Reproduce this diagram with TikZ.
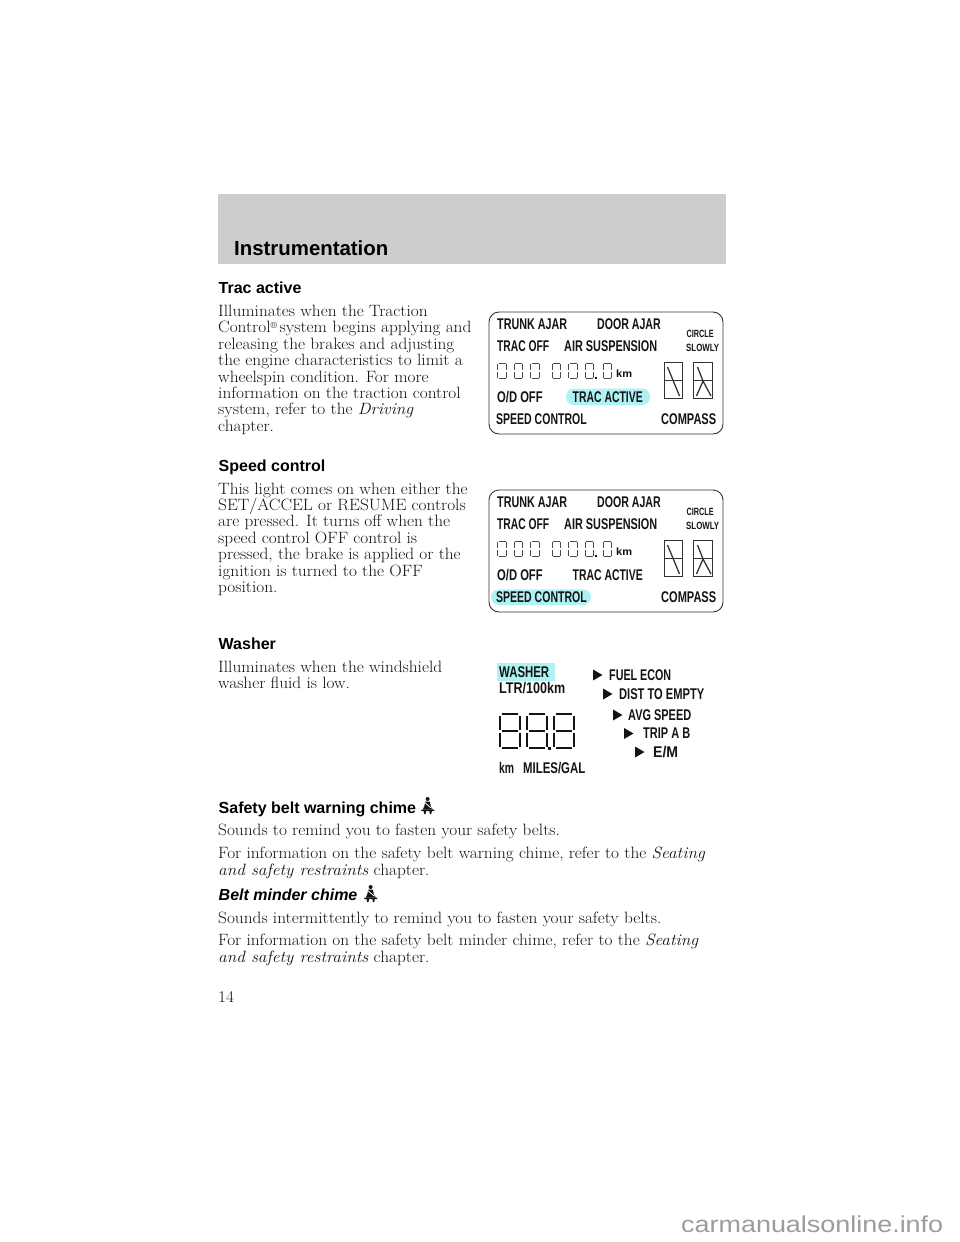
\documentclass[tikz,border=0pt]{standalone}
\usepackage{graphicx}
\usepackage{fontspec}
\setmainfont{Latin Modern Roman}
\newfontfamily\hsans{Liberation Sans}
\newfontfamily\lcdfont{Liberation Sans}
\definecolor{band}{HTML}{CDCDCD}
\definecolor{hili}{HTML}{AEF2F4}
\definecolor{ink}{HTML}{141414}
\definecolor{lcdline}{HTML}{333333}
\definecolor{segsoft}{HTML}{4A4A4A}
\definecolor{wm}{HTML}{9C9C9C}
\newcommand{\bodyfont}{\fontsize{16.4}{18}\selectfont}
\tikzset{
  x=1pt,y=-1pt,
  bodyline/.style={anchor=base west,inner sep=0pt,text=ink,font=\bodyfont},
  headline/.style={anchor=base west,inner sep=0pt,text=black,font=\hsans\bfseries\fontsize{16}{18}\selectfont},
  lcdtext/.style={anchor=west,inner sep=0pt,text=ink,font=\lcdfont\bfseries\fontsize{15.5}{16}\selectfont},
  lcdsmall/.style={anchor=west,inner sep=0pt,text=ink,font=\lcdfont\bfseries\fontsize{10.5}{11}\selectfont},
  panelbox/.style={draw=lcdline,line width=0.9pt,rounded corners=10pt},
  seg/.style={draw=segsoft,line width=1pt,line cap=butt},
  bigseg/.style={draw=ink,line width=1.8pt},
  alphaseg/.style={draw=lcdline,line width=1.3pt},
  marker/.style={fill=ink,draw=none},
}
\newcommand{\lcd}[5][lcdtext]{\node[#1] at (#2,#3) {\resizebox{#4pt}{\height}{#5}};}
\newcommand{\digit}[2]{% x y : small seven-segment outline, 9.4 x 16
  \begin{scope}[shift={(#1,#2)}]
    \draw[seg] (1.2,0.4) -- (8.2,0.4);
    \draw[seg] (1.2,15.6) -- (8.2,15.6);
    \draw[seg] (0.5,1.2) -- (0.5,7.4);
    \draw[seg] (8.9,1.2) -- (8.9,7.4);
    \draw[seg] (0.5,8.6) -- (0.5,14.8);
    \draw[seg] (8.9,8.6) -- (8.9,14.8);
  \end{scope}
}
\newcommand{\bigdigit}[1]{% x : large seven-segment digit, 21.5 x 36
  \begin{scope}[shift={(#1,713)}]
    \draw[bigseg] (2.5,0.9) -- (19,0.9);
    \draw[bigseg] (2.5,18) -- (19,18);
    \draw[bigseg] (2.5,35.1) -- (19,35.1);
    \draw[bigseg] (0.9,2.5) -- (0.9,16.5);
    \draw[bigseg] (20.6,2.5) -- (20.6,16.5);
    \draw[bigseg] (0.9,19.5) -- (0.9,33.5);
    \draw[bigseg] (20.6,19.5) -- (20.6,33.5);
  \end{scope}
}
\newcommand{\tline}[3]{\node[bodyline] at (#1,#2) {\scalebox{1.055}[1]{#3}};}
\newcommand{\belt}[2]{% seat-belt figure, top-left x y
  \begin{scope}[shift={(#1,#2)}]
    \fill[ink] (6.6,2) circle (2);
    \fill[ink] (4.2,4.6) -- (8.8,4.6) -- (10,10) -- (12,12.5) -- (1.8,12.5) -- (3.4,9) -- cycle;
    \fill[ink] (0.4,12.5) -- (13,12.5) -- (13.4,14) -- (10.8,14) -- (10.2,17) -- (8.8,17) -- (8.4,14) -- (5,14) -- (4.6,17) -- (3.2,17) -- (2.6,14) -- (0.2,14) -- cycle;
    \draw[white,line width=0.8pt] (3.6,5.4) -- (10.4,11.2);
  \end{scope}
}
\newcommand{\panel}[2]{% y offset, highlight pill
  \begin{scope}[yshift=-#1pt]
    #2
    \draw[panelbox] (489,312) rectangle (723,434);
    \lcd{497}{324.5}{70}{TRUNK AJAR}
    \lcd{597}{324.5}{63.5}{DOOR AJAR}
    \lcd[lcdsmall]{686.5}{333.5}{27}{CIRCLE}
    \lcd[lcdsmall]{686}{348}{33}{SLOWLY}
    \lcd{497}{346}{52}{TRAC OFF}
    \lcd{564}{346}{93}{AIR SUSPENSION}
    \foreach \dx in {497.3,513.7,530.3,551.7,568.3,585,602.7}{\digit{\dx}{363}}
    \fill[ink] (594.5,376.8) rectangle (596.6,379);
    \lcd[lcdsmall]{616}{373.5}{16}{km}
    \draw[alphaseg] (664.6,362.5) rectangle (682.4,398.5);
    \draw[alphaseg] (664.6,380.6) -- (682.4,380.6);
    \draw[alphaseg] (693.6,362.5) rectangle (712.4,398.5);
    \draw[alphaseg] (693.6,380.6) -- (712.4,380.6);
    \draw[alphaseg] (667.5,367) -- (679.5,396);
    \draw[alphaseg] (697.5,367) -- (703,381);
    \draw[alphaseg] (703,381) -- (696.5,396);
    \draw[alphaseg] (703,381) -- (711,396);
    \lcd{497}{397.5}{45.5}{O/D OFF}
    \lcd{572.5}{397.5}{70}{TRAC ACTIVE}
    \lcd{496}{419}{90.5}{SPEED CONTROL}
    \lcd{661}{419}{55}{COMPASS}
  \end{scope}
}
\begin{document}
\begin{tikzpicture}
\useasboundingbox (0,0) rectangle (960,1242);
\fill[white] (0,0) rectangle (960,1242);
\fill[band] (218,194) rectangle (726,264);
\node[anchor=base west,inner sep=0pt,text=black,font=\hsans\bfseries\fontsize{20.4}{24}\selectfont] (title) at (234,255.5) {Instrumentation};

\node[headline] (h1) at (218.5,293) {Trac active};
\tline{218}{316}{Illuminates when the Traction}
\tline{218}{332}{Control{\raisebox{0.45ex}{\fontsize{9}{9}\selectfont\textregistered}}\hspace{2.5pt}system begins applying and}
\tline{218}{349}{releasing the brakes and adjusting}
\tline{218}{365}{the engine characteristics to limit a}
\tline{218}{382}{wheelspin condition. For more}
\tline{218}{398}{information on the traction control}
\tline{218}{414}{system, refer to the \textit{Driving}}
\tline{218}{431}{chapter.}

\node[headline] (h2) at (218.5,471) {Speed control};
\tline{218}{494}{This light comes on when either the}
\tline{218}{510}{SET/ACCEL or RESUME controls}
\tline{218}{526}{are pressed. It turns off when the}
\tline{218}{543}{speed control OFF control is}
\tline{218}{559}{pressed, the brake is applied or the}
\tline{218}{576}{ignition is turned to the OFF}
\tline{218}{592}{position.}

\node[headline] (h3) at (218.5,649) {Washer};
\tline{218}{672}{Illuminates when the windshield}
\tline{218}{688}{washer fluid is low.}

\node[headline] (h4) at (218.5,813) {Safety belt warning chime};
\belt{421}{797}
\tline{218}{835}{Sounds to remind you to fasten your safety belts.}
\tline{218}{858}{For information on the safety belt warning chime, refer to the \textit{Seating}}
\tline{218}{875}{\textit{and safety restraints} chapter.}
\node[headline,font=\hsans\bfseries\itshape\fontsize{16}{18}\selectfont] (h5) at (218.5,900) {Belt minder chime};
\belt{364}{885}
\tline{218}{923}{Sounds intermittently to remind you to fasten your safety belts.}
\tline{218}{945}{For information on the safety belt minder chime, refer to the \textit{Seating}}
\tline{218}{962}{\textit{and safety restraints} chapter.}
\tline{218}{1002}{14}

\panel{0}{\fill[hili,rounded corners=8pt] (566,388.5) rectangle (650,405);}
\panel{178}{\fill[hili,rounded corners=8pt] (491,411.3) rectangle (591,427);}

\fill[hili] (497,663) rectangle (555,681);
\lcd{499}{672}{50}{WASHER}
\lcd{499}{688}{66}{LTR/100km}
\bigdigit{499}
\bigdigit{526}
\bigdigit{553}
\fill[ink] (548.2,747) rectangle (551,749.8);
\lcd{499}{768}{15}{km}
\lcd{523}{768}{62}{MILES/GAL}
\foreach \tx/\ty in {593/675,603/694,613/715,624/733.5,635/752}{
  \fill[marker] (\tx,\ty-5.5) -- (\tx+9.5,\ty) -- (\tx,\ty+5.5) -- cycle;
}
\lcd{609}{675}{62}{FUEL ECON}
\lcd{619}{694}{85}{DIST TO EMPTY}
\lcd{628}{715}{63}{AVG SPEED}
\lcd{643}{733.5}{47}{TRIP A B}
\lcd{653}{752}{25}{E/M}

\node[anchor=base west,inner sep=0pt,text=wm,font=\hsans\fontsize{23}{25}\selectfont] (mark) at (681,1232) {\resizebox{262pt}{\height}{carmanualsonline.info}};
\end{tikzpicture}
\end{document}
